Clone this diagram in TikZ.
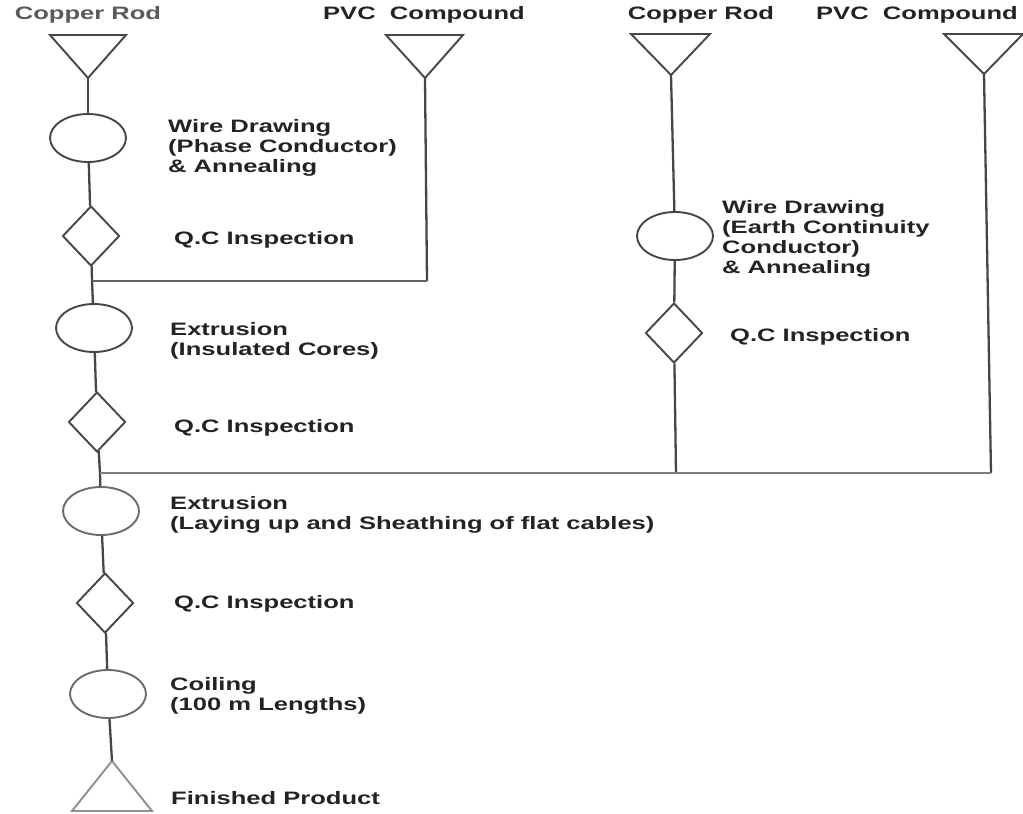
\documentclass[tikz,border=0pt]{standalone}
\usepackage{fontspec}
\setmainfont{Liberation Sans}
\usetikzlibrary{shapes.geometric}
\definecolor{lc}{RGB}{70,70,70}
\definecolor{tc}{RGB}{35,35,35}
\newcommand{\wtxt}[1]{\scalebox{1.42}[1]{\begin{tabular}{@{}l@{}}#1\end{tabular}}}
\begin{document}
\begin{tikzpicture}[x=1pt,y=-1pt,
  proc/.style={ellipse, draw=lc, line width=1.9pt, minimum width=76pt, minimum height=48pt, inner sep=0pt},
  insp/.style={diamond, draw=lc, line width=1.9pt, minimum width=57pt, minimum height=60pt, inner sep=0pt},
  flow/.style={draw=lc, line width=2.3pt},
  hflow/.style={draw=lc!85, line width=2pt},
  tri/.style={draw=lc, line width=1.9pt, line join=miter},
  lbl/.style={anchor=west, inner sep=0pt, text=tc, font=\bfseries\fontsize{18}{20}\selectfont},
  ttl/.style={anchor=center, inner sep=0pt, text=tc, font=\bfseries\fontsize{18}{20}\selectfont}]
\useasboundingbox (0,0) rectangle (1023,814);

% top labels
\node[ttl, text=tc!75] (cr1) at (88,15) {\wtxt{Copper Rod}};
\node[ttl] (pvc1) at (424,15) {\wtxt{PVC\ \ Compound}};
\node[ttl] (cr2) at (701,15) {\wtxt{Copper Rod}};
\node[ttl] (pvc2) at (917,15) {\wtxt{PVC\ \ Compound}};

% triangles (raw materials)
\coordinate (t1) at (88,78);
\coordinate (t2) at (425,78);
\coordinate (t3) at (671,75);
\coordinate (t4) at (984,74);
\draw[tri] (50,35) -- (126,35) -- (t1) -- cycle;
\draw[tri] (386,35) -- (463,35) -- (t2) -- cycle;
\draw[tri] (631,34) -- (710,34) -- (t3) -- cycle;
\draw[tri] (944,34) -- (1023,34) -- (t4) -- cycle;

% left main line
\node[proc] (wd1) at (88,138) {};
\node[insp] (qc1) at (91,236) {};
\coordinate (j1) at (92,281);
\coordinate (c2) at (427,281);
\node[proc] (ex1) at (94,328) {};
\node[insp] (qc2) at (97,422) {};
\coordinate (j2) at (100,473);
\node[proc, draw=lc!80] (ex2) at (101,511) {};
\node[insp] (qc3) at (105,603) {};
\node[proc, draw=lc!80] (coil) at (108,694) {};
\coordinate (fp) at (112,761);
\draw[tri, draw=lc!60] (fp) -- (152,811) -- (72,811) -- cycle;

% right branch
\node[proc] (wd2) at (675,236) {};
\node[insp] (qc4) at (674,333) {};
\coordinate (c3) at (676,473);
\coordinate (c4) at (991,473);

% connectors
\draw[flow] (t1) -- (wd1);
\draw[flow] (wd1) -- (qc1);
\draw[flow] (qc1) -- (j1);
\draw[flow] (j1) -- (ex1);
\draw[flow] (ex1) -- (qc2);
\draw[flow] (qc2) -- (j2);
\draw[flow] (j2) -- (ex2);
\draw[flow] (ex2) -- (qc3);
\draw[flow] (qc3) -- (coil);
\draw[flow] (coil) -- (fp);
\draw[flow] (t2) -- (c2);
\draw[hflow] (j1) -- (c2);
\draw[flow] (t3) -- (wd2);
\draw[flow] (wd2) -- (qc4);
\draw[flow] (qc4) -- (c3);
\draw[flow] (t4) -- (c4);
\draw[hflow, draw=lc!70] (j2) -- (c4);

% labels
\node[lbl] (lwd1) at (168,148) {\wtxt{Wire Drawing\\(Phase Conductor)\\\& Annealing}};
\node[lbl] (lqc1) at (174,240) {\wtxt{Q.C Inspection}};
\node[lbl] (lex1) at (170,341) {\wtxt{Extrusion\\(Insulated Cores)}};
\node[lbl] (lqc2) at (174,428) {\wtxt{Q.C Inspection}};
\node[lbl] (lex2) at (170,515) {\wtxt{Extrusion\\(Laying up and Sheathing of flat cables)}};
\node[lbl] (lqc3) at (174,604) {\wtxt{Q.C Inspection}};
\node[lbl] (lcoil) at (170,696) {\wtxt{Coiling\\(100 m Lengths)}};
\node[lbl] (lfp) at (171,800) {\wtxt{Finished Product}};
\node[lbl] (lwd2) at (722,239) {\wtxt{Wire Drawing\\(Earth Continuity\\Conductor)\\\& Annealing}};
\node[lbl] (lqc4) at (730,337) {\wtxt{Q.C Inspection}};
\end{tikzpicture}
\end{document}
